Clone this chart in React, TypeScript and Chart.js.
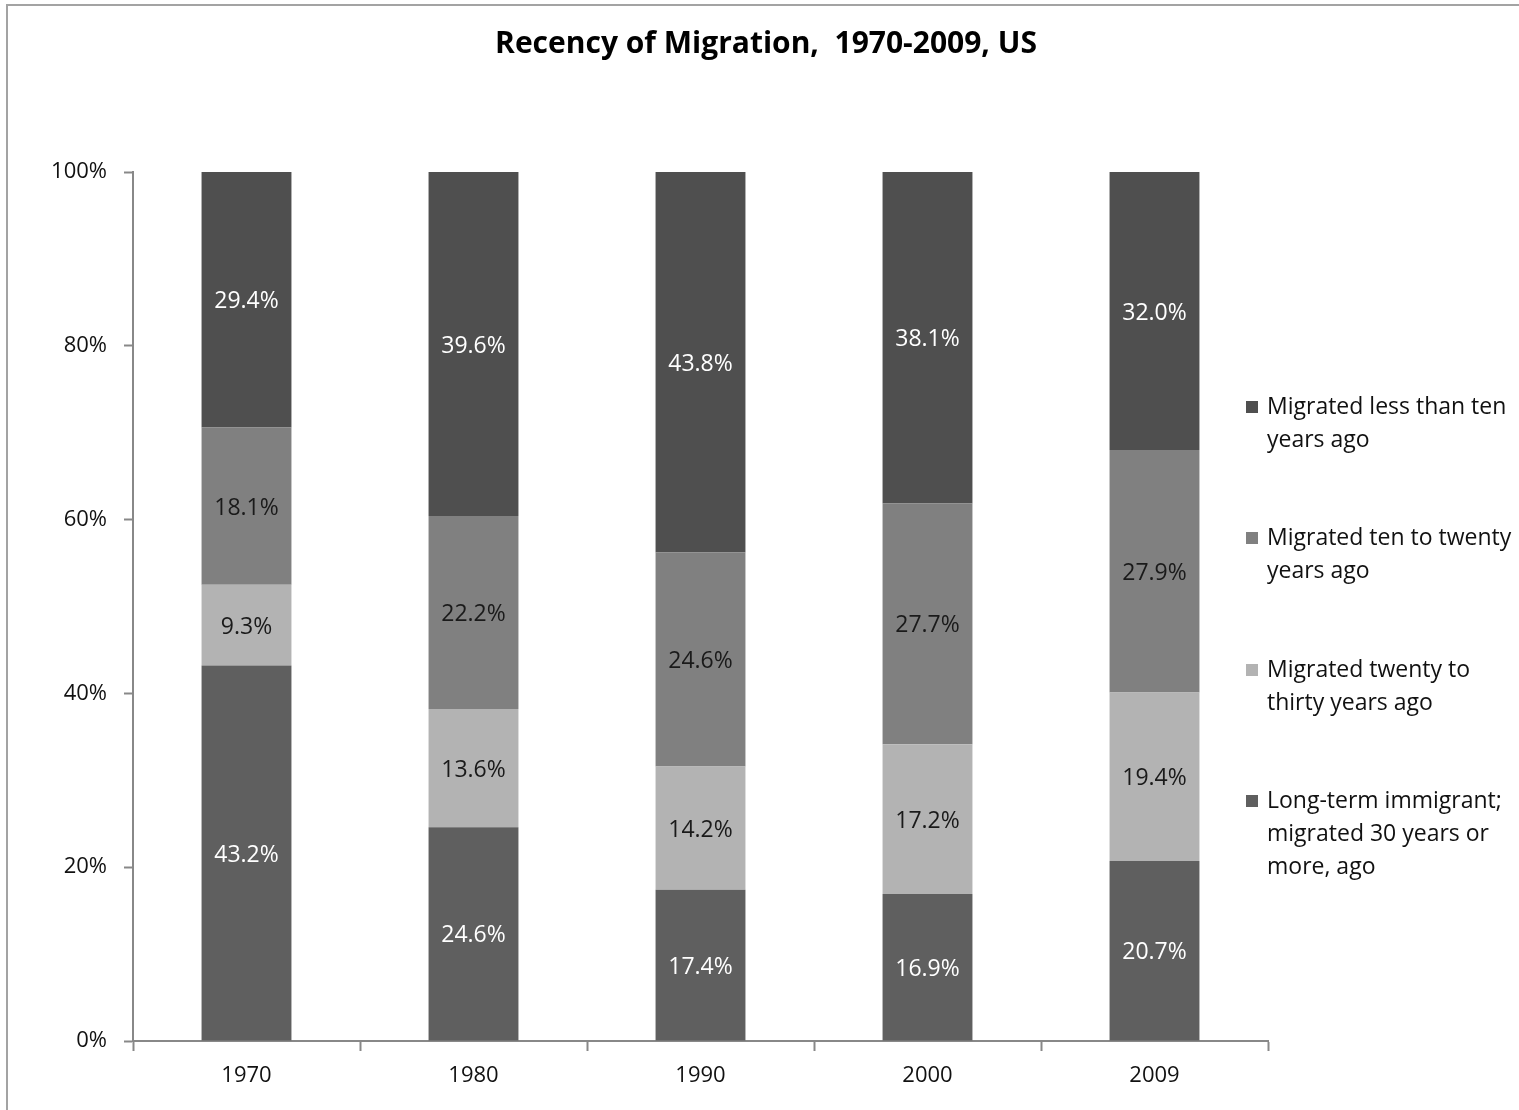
import React, { useEffect, useRef } from "react";
import { Chart, registerables } from "chart.js";

Chart.register(...registerables);

const TITLE = "Recency of Migration,  1970-2009, US";
const categories = ["1970", "1980", "1990", "2000", "2009"];
const longTerm = [43.2, 24.6, 17.4, 16.9, 20.7];
const twentyToThirty = [9.3, 13.6, 14.2, 17.2, 19.4];
const tenToTwenty = [18.1, 22.2, 24.6, 27.7, 27.9];
const lessThanTen = [29.4, 39.6, 43.8, 38.1, 32.0];
const yTicks = [0, 20, 40, 60, 80, 100];

const seriesNames = [
  "Long-term immigrant; migrated 30 years or more, ago",
  "Migrated twenty to thirty years ago",
  "Migrated ten to twenty years ago",
  "Migrated less than ten years ago",
];
// legend lines, top to bottom (as wrapped in the legend)
const legendLines = [
  ["Migrated less than ten", "years ago"],
  ["Migrated ten to twenty", "years ago"],
  ["Migrated twenty to", "thirty years ago"],
  ["Long-term immigrant;", "migrated 30 years or", "more, ago"],
];

const COLORS = ["#5f5f5f", "#b3b3b3", "#808080", "#4f4f4f"];
const LABEL_COLORS = ["#ffffff", "#1a1a1a", "#1a1a1a", "#ffffff"];
const FONT = "'Open Sans', 'Noto Sans', sans-serif";
const AXIS = "#888888";

export default function App() {
  const ref = useRef<HTMLCanvasElement | null>(null);

  useEffect(() => {
    if (!ref.current) return;

    const raw = [longTerm, twentyToThirty, tenToTwenty, lessThanTen];
    // 100% stacked: bar heights are shares of each year's total
    const totals = categories.map((_, i) => raw.reduce((s, d) => s + d[i], 0));
    const shares = raw.map((d) => d.map((v, i) => (v / totals[i]) * 100));

    const framePlugin = {
      id: "frame",
      beforeDraw(chart: any) {
        const ctx = chart.ctx;
        ctx.save();
        ctx.fillStyle = "#ffffff";
        ctx.fillRect(0, 0, chart.width, chart.height);
        ctx.strokeStyle = "#a3a3a3";
        ctx.lineWidth = 2;
        ctx.beginPath();
        ctx.moveTo(7, chart.height);
        ctx.lineTo(7, 5);
        ctx.lineTo(chart.width, 5);
        ctx.stroke();
        ctx.fillStyle = "#000";
        ctx.font = `bold 30px ${FONT}`;
        ctx.textAlign = "center";
        ctx.textBaseline = "middle";
        ctx.fillText(TITLE, 766, 44);
        ctx.restore();
      },
    };

    const labelPlugin = {
      id: "barLabels",
      afterDatasetsDraw(chart: any) {
        const ctx = chart.ctx;
        ctx.save();
        ctx.font = `23px ${FONT}`;
        ctx.textAlign = "center";
        ctx.textBaseline = "middle";
        chart.data.datasets.forEach((ds: any, di: number) => {
          const meta = chart.getDatasetMeta(di);
          meta.data.forEach((el: any, i: number) => {
            const v = raw[di][i];
            ctx.fillStyle = LABEL_COLORS[di];
            ctx.fillText(v.toFixed(1) + "%", el.x, (el.y + el.base) / 2 + 2);
          });
        });
        ctx.restore();
      },
    };

    const legendPlugin = {
      id: "customLegend",
      afterDraw(chart: any) {
        const ctx = chart.ctx;
        ctx.save();
        ctx.font = `23px ${FONT}`;
        ctx.textAlign = "left";
        ctx.textBaseline = "middle";
        const starts = [407, 538, 670, 801];
        legendLines.forEach((lines, k) => {
          const y0 = starts[k];
          ctx.fillStyle = COLORS[COLORS.length - 1 - k];
          ctx.fillRect(1246, y0 - 6, 12, 12);
          ctx.fillStyle = "#111";
          lines.forEach((t, j) => ctx.fillText(t, 1267, y0 + j * 33));
        });
        ctx.restore();
      },
    };

    const chart = new Chart(ref.current, {
      type: "bar",
      data: {
        labels: categories,
        datasets: shares.map((d, i) => ({
          label: seriesNames[i],
          data: d,
          backgroundColor: COLORS[i],
          borderWidth: 0,
          categoryPercentage: 1,
          barPercentage: 0.396,
        })),
      },
      options: {
        responsive: false,
        animation: false,
        layout: { padding: { left: 0, right: 251, top: 172, bottom: 0 } },
        plugins: {
          legend: { display: false },
          title: { display: false },
          tooltip: { enabled: false },
        },
        scales: {
          x: {
            stacked: true,
            grid: {
              display: true,
              drawOnChartArea: false,
              drawTicks: true,
              tickLength: 10,
              tickWidth: 2,
              color: AXIS,
              offset: true,
            },
            border: { display: true, color: AXIS, width: 2 },
            ticks: {
              color: "#111",
              font: { family: FONT, size: 22 },
              padding: 12,
            },
            afterFit: (s: any) => {
              s.height = 69;
            },
          },
          y: {
            stacked: true,
            min: 0,
            max: 100,
            afterBuildTicks: (s: any) => {
              s.ticks = yTicks.map((v) => ({ value: v }));
            },
            grid: {
              display: true,
              drawOnChartArea: false,
              drawTicks: true,
              tickLength: 9,
              tickWidth: 2,
              color: AXIS,
            },
            border: { display: true, color: AXIS, width: 2 },
            ticks: {
              color: "#111",
              font: { family: FONT, size: 22 },
              padding: 17,
              callback: (v: any) => v + "%",
            },
            afterFit: (s: any) => {
              s.width = 133;
            },
          },
        },
      },
      plugins: [framePlugin, labelPlugin, legendPlugin],
    });

    return () => chart.destroy();
  }, []);

  return (
    <div style={{ position: "fixed", left: 0, top: 0, width: 1519, height: 1110, overflow: "hidden", background: "#fff" }}>
      <canvas ref={ref} width={1519} height={1110} style={{ width: 1519, height: 1110, display: "block" }} />
    </div>
  );
}
